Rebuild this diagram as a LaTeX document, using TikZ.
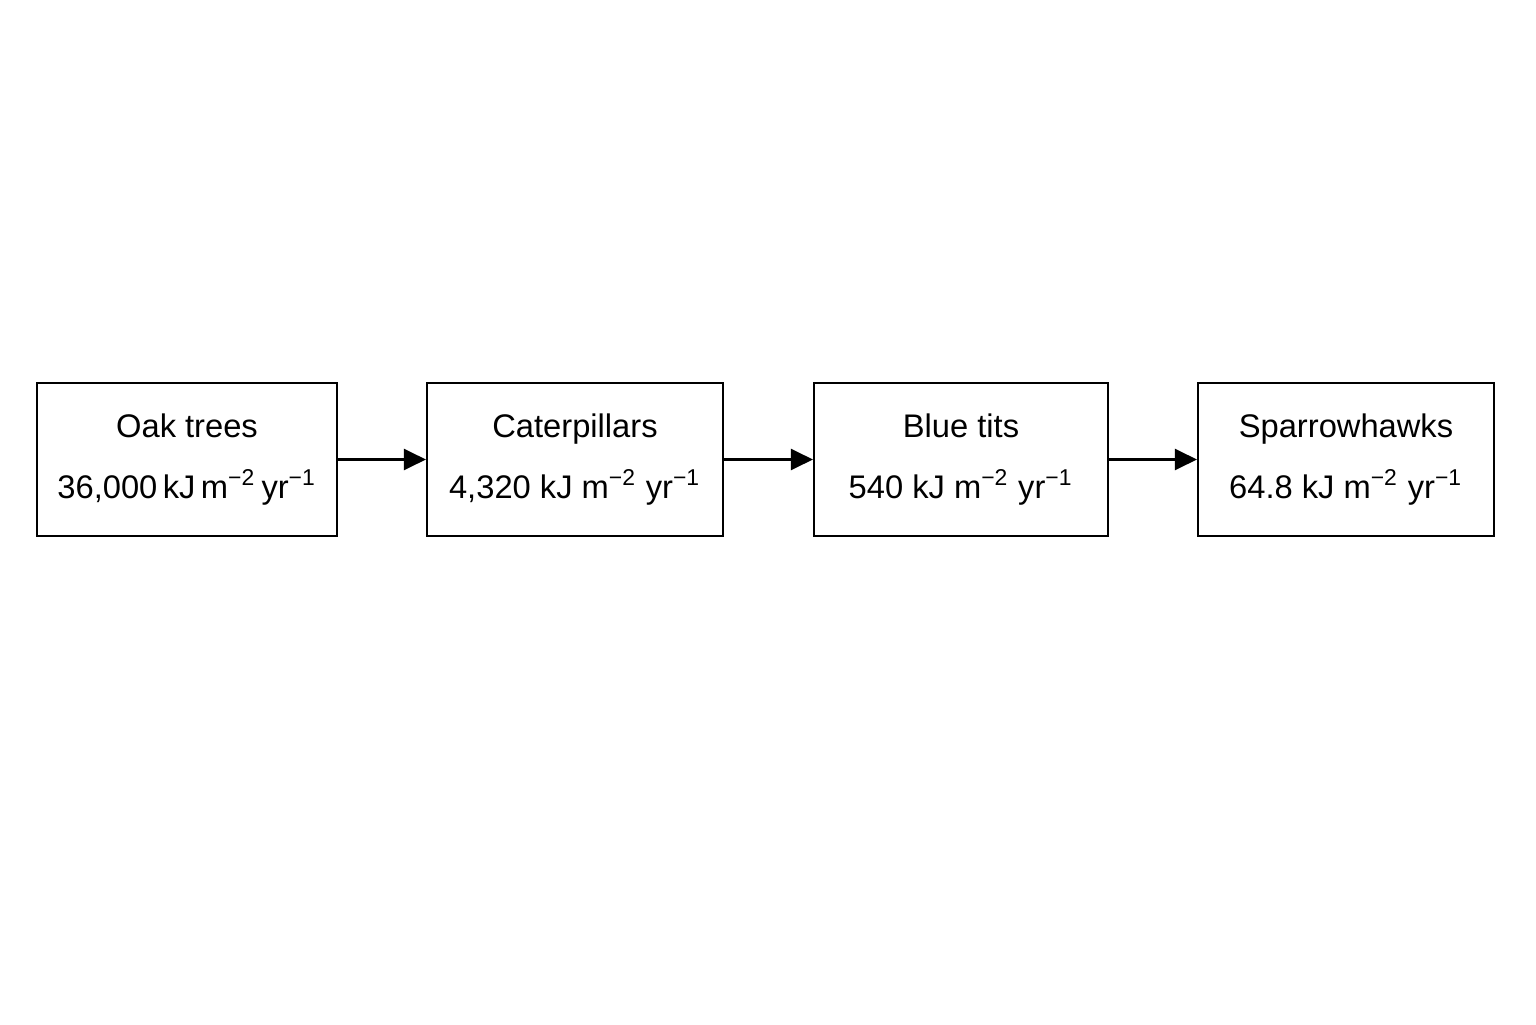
\documentclass[tikz,border=0pt]{standalone}
\usepackage{fontspec}
\setmainfont{Liberation Sans}
\usetikzlibrary{arrows.meta}

\def \boxHeight {1.53cm}
\def \rowY {5.645}

\begin{document}
\begin{tikzpicture}[
      level/.style={draw, line width=0.6pt, minimum height=\boxHeight, align=center,
         font=\fontsize{9.3}{17.6}\selectfont, inner sep=0pt},
      flow/.style={line width=0.6pt, -{Triangle[length=0.22cm, width=0.21cm]}}
   ]
         \useasboundingbox (0,0) rectangle (15.36,10.24);
         \node[level, minimum width=3.00cm] (oak) at (1.87, \rowY) {Oak trees\\36,000\,kJ\,m\textsuperscript{−2}\,yr\textsuperscript{−1}};
         \node[level, minimum width=2.96cm] (caterpillars) at (5.75, \rowY) {Caterpillars\\4,320 kJ m\textsuperscript{−2} yr\textsuperscript{−1}};
         \node[level, minimum width=2.94cm] (bluetits) at (9.61, \rowY) {Blue tits\\540 kJ m\textsuperscript{−2} yr\textsuperscript{−1}};
         \node[level, minimum width=2.96cm] (hawks) at (13.46, \rowY) {Sparrowhawks\\64.8 kJ m\textsuperscript{−2} yr\textsuperscript{−1}};
         \draw[flow] (oak) -- (caterpillars);
         \draw[flow] (caterpillars) -- (bluetits);
         \draw[flow] (bluetits) -- (hawks);
      \end{tikzpicture}
\end{document}
